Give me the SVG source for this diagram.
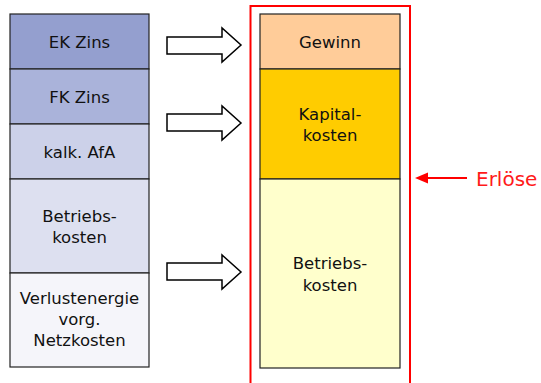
<svg xmlns="http://www.w3.org/2000/svg" width="541" height="383" viewBox="0 0 541 383">
<style>
.box{stroke:#222;stroke-width:1.2}
.t{font-family:"DejaVu Sans",sans-serif;font-size:16.5px;fill:#111;text-anchor:middle}
.arr{fill:#fff;stroke:#000;stroke-width:1.5}
</style>
<rect width="541" height="383" fill="#fff"/>
<g id="left">
<g id="ek"><rect class="box" x="10" y="14" width="139" height="55" fill="#949FCF"/><text class="t" x="79.5" y="48">EK Zins</text></g>
<g id="fk"><rect class="box" x="10" y="69" width="139" height="55" fill="#AAB3DA"/><text class="t" x="79.5" y="103">FK Zins</text></g>
<g id="afa"><rect class="box" x="10" y="124" width="139" height="55" fill="#CCD1E9"/><text class="t" x="79.5" y="158">kalk. AfA</text></g>
<g id="bk"><rect class="box" x="10" y="179" width="139" height="94" fill="#DDE0F0"/><text class="t" x="79.5" y="222">Betriebs-</text><text class="t" x="79.5" y="243">kosten</text></g>
<g id="vl"><rect class="box" x="10" y="273" width="139" height="94" fill="#F5F5FA"/><text class="t" x="79.5" y="304">Verlustenergie</text><text class="t" x="79.5" y="325">vorg.</text><text class="t" x="79.5" y="346">Netzkosten</text></g>
</g>
<g id="erloese-frame"><rect x="250.5" y="6" width="159.5" height="390" fill="none" stroke="#FF0000" stroke-width="2"/></g>
<g id="right">
<g id="gewinn"><rect class="box" x="260" y="14" width="140" height="55" fill="#FFCC99"/><text class="t" x="330" y="48">Gewinn</text></g>
<g id="kapital"><rect class="box" x="260" y="69" width="140" height="110" fill="#FFCC00"/><text class="t" x="330" y="120">Kapital-</text><text class="t" x="330" y="141">kosten</text></g>
<g id="betrieb"><rect class="box" x="260" y="179" width="140" height="189" fill="#FFFFCC"/><text class="t" x="330" y="269">Betriebs-</text><text class="t" x="330" y="291">kosten</text></g>
</g>
<g id="connectors">
<path class="arr" d="M167,37 H222 V28 L241,45 L222,62 V54 H167 Z"/>
<path class="arr" d="M167,114 H222 V106 L241,123 L222,140 V131 H167 Z"/>
<path class="arr" d="M167,263 H222 V255 L241,272 L222,289 V280 H167 Z"/>
<line x1="426" y1="178" x2="467" y2="178" stroke="#FF0000" stroke-width="2"/>
<path d="M415,178 L428,172.5 L428,183.5 Z" fill="#FF0000"/>
</g>
<g id="erloese-label"><text x="476" y="186" font-family="DejaVu Sans,sans-serif" font-size="20" fill="#FF1A1A">Erlöse</text></g>
</svg>
